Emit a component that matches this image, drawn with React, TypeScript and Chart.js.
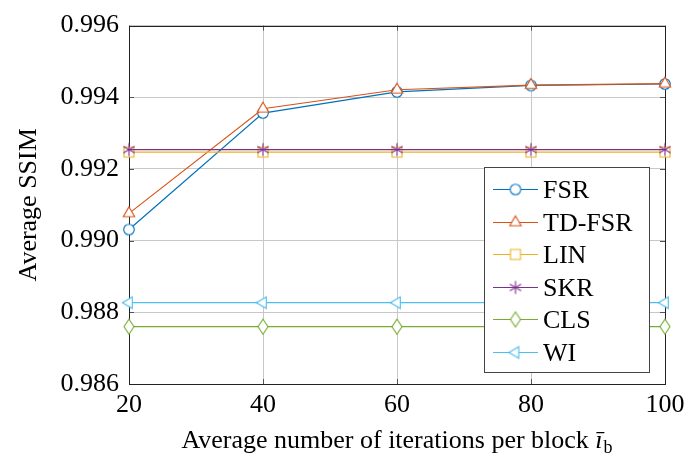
import React, { useEffect, useRef } from 'react';
import { Chart, registerables } from 'chart.js';

Chart.register(...registerables);

const iterations = [20, 40, 60, 80, 100];
const fsrValues = [0.99031, 0.99356, 0.99415, 0.99433, 0.99437];
const tdFsrValues = [0.99076, 0.99368, 0.99421, 0.99434, 0.99438];
const linValues = [0.99247, 0.99247, 0.99247, 0.99247, 0.99247];
const skrValues = [0.99254, 0.99254, 0.99254, 0.99254, 0.99254];
const clsValues = [0.98760, 0.98760, 0.98760, 0.98760, 0.98760];
const wiValues = [0.98827, 0.98827, 0.98827, 0.98827, 0.98827];

const seriesNames = ['FSR', 'TD-FSR', 'LIN', 'SKR', 'CLS', 'WI'];
const seriesValues = [fsrValues, tdFsrValues, linValues, skrValues, clsValues, wiValues];
const seriesColors = ['#0072BD', '#D95319', '#EDB120', '#7E2F8E', '#77AC30', '#4DBEEE'];
const seriesMarkers = ['circle', 'triangle', 'square', 'asterisk', 'diamond', 'triangleLeft'];

const xTicks = [20, 40, 60, 80, 100];
const yTicks = [0.986, 0.988, 0.99, 0.992, 0.994, 0.996];

const FONT = 'Liberation Serif';

Chart.defaults.font.family = FONT;
Chart.defaults.font.size = 26;
Chart.defaults.color = '#000';

function makeMarker(shape: string, color: string): HTMLCanvasElement {
  const c = document.createElement('canvas');
  c.width = 20;
  c.height = 20;
  const g = c.getContext('2d')!;
  const m = 10;
  g.strokeStyle = color;
  g.fillStyle = '#ffffff';
  g.lineWidth = 1.1;
  g.beginPath();
  if (shape === 'circle') {
    g.arc(m, m, 5.3, 0, Math.PI * 2);
    g.fill();
    g.stroke();
  } else if (shape === 'triangle') {
    const r = 6.6;
    g.moveTo(m, m - r);
    g.lineTo(m + r * 0.866, m + r / 2);
    g.lineTo(m - r * 0.866, m + r / 2);
    g.closePath();
    g.fill();
    g.stroke();
  } else if (shape === 'triangleLeft') {
    const r = 6.6;
    g.moveTo(m - r, m);
    g.lineTo(m + r / 2, m - r * 0.866);
    g.lineTo(m + r / 2, m + r * 0.866);
    g.closePath();
    g.fill();
    g.stroke();
  } else if (shape === 'square') {
    g.rect(m - 5, m - 5, 10, 10);
    g.fill();
    g.stroke();
  } else if (shape === 'diamond') {
    g.moveTo(m, m - 7.5);
    g.lineTo(m + 5, m);
    g.lineTo(m, m + 7.5);
    g.lineTo(m - 5, m);
    g.closePath();
    g.fill();
    g.stroke();
  } else if (shape === 'asterisk') {
    const r = 6.5;
    [90, 30, 150].forEach((deg) => {
      const a = (deg * Math.PI) / 180;
      g.moveTo(m - r * Math.cos(a), m - r * Math.sin(a));
      g.lineTo(m + r * Math.cos(a), m + r * Math.sin(a));
    });
    g.stroke();
  }
  return c;
}

export default function App() {
  const ref = useRef<HTMLCanvasElement>(null);

  useEffect(() => {
    const markers = seriesMarkers.map((s, i) => makeMarker(s, seriesColors[i]));

    const framePlugin = {
      id: 'frame',
      beforeDatasetsDraw(chart: any) {
        const { ctx, chartArea: a, scales } = chart;
        ctx.save();
        ctx.strokeStyle = '#555';
        ctx.lineWidth = 1;
        ctx.beginPath();
        yTicks.forEach((v) => {
          const py = Math.round(scales.y.getPixelForValue(v)) + 0.5;
          ctx.moveTo(a.left, py);
          ctx.lineTo(a.left + 5, py);
          ctx.moveTo(a.right - 5, py);
          ctx.lineTo(a.right, py);
        });
        xTicks.forEach((v) => {
          const px = Math.round(scales.x.getPixelForValue(v)) + 0.5;
          ctx.moveTo(px, a.bottom);
          ctx.lineTo(px, a.bottom - 5);
          ctx.moveTo(px, a.top);
          ctx.lineTo(px, a.top + 5);
        });
        ctx.stroke();
        ctx.strokeStyle = '#222';
        ctx.strokeRect(
          Math.round(a.left) + 0.5,
          Math.round(a.top) + 0.5,
          Math.round(a.right - a.left),
          Math.round(a.bottom - a.top)
        );
        ctx.restore();
      },
      afterDatasetsDraw(chart: any) {
        const { ctx, chartArea: a } = chart;
        ctx.save();
        const lx = 484.5, ly = 167.5, lw = 165, lh = 205;
        ctx.fillStyle = '#ffffff';
        ctx.fillRect(lx, ly, lw, lh);
        ctx.strokeStyle = '#444';
        ctx.lineWidth = 1;
        ctx.strokeRect(lx, ly, lw, lh);
        seriesNames.forEach((name, i) => {
          const y = Math.round(189 + i * 32.6) + 0.5;
          ctx.strokeStyle = seriesColors[i];
          ctx.lineWidth = 1.2;
          ctx.beginPath();
          ctx.moveTo(493, y);
          ctx.lineTo(538, y);
          ctx.stroke();
          const mk = markers[i];
          ctx.drawImage(mk, 515.5 - mk.width / 2, y - mk.height / 2);
          ctx.fillStyle = '#000';
          ctx.font = `26px ${FONT}`;
          ctx.textAlign = 'left';
          ctx.textBaseline = 'alphabetic';
          ctx.fillText(name, 543, y + 8.5);
        });
        const main = 'Average number of iterations per block ';
        ctx.fillStyle = '#000';
        ctx.textBaseline = 'alphabetic';
        ctx.textAlign = 'left';
        ctx.font = `26px ${FONT}`;
        const w1 = ctx.measureText(main).width;
        ctx.font = `italic 26px ${FONT}`;
        const w2 = ctx.measureText('\u012B').width;
        ctx.font = `18px ${FONT}`;
        const w3 = ctx.measureText('b').width;
        const total = w1 + w2 + 1 + w3;
        let x = (a.left + a.right) / 2 - total / 2;
        const base = 448;
        ctx.font = `26px ${FONT}`;
        ctx.fillText(main, x, base);
        x += w1;
        ctx.font = `italic 26px ${FONT}`;
        ctx.fillText('\u012B', x, base);
        x += w2 + 1;
        ctx.font = `18px ${FONT}`;
        ctx.fillText('b', x, base + 5);
        ctx.restore();
      },
    };

    const chart = new Chart(ref.current!, {
      type: 'line',
      data: {
        datasets: seriesNames.map((name, i) => ({
          label: name,
          data: iterations.map((x, j) => ({ x, y: seriesValues[i][j] })),
          borderColor: seriesColors[i],
          backgroundColor: seriesColors[i],
          borderWidth: 1.2,
          pointStyle: markers[i] as any,
          pointRadius: 6,
          pointHoverRadius: 6,
          tension: 0,
          fill: false,
          clip: false as any,
          order: seriesNames.length - i,
        })),
      },
      options: {
        responsive: false,
        animation: false,
        layout: { padding: { top: 16, right: 34, left: 0, bottom: 0 } },
        plugins: {
          legend: { display: false },
          tooltip: { enabled: false },
        },
        scales: {
          x: {
            type: 'linear',
            min: 20,
            max: 100,
            afterBuildTicks: (s: any) => {
              s.ticks = xTicks.map((v) => ({ value: v }));
            },
            afterFit: (s: any) => {
              s.height = 74;
            },
            border: { display: false },
            grid: { color: '#c8c8c8', lineWidth: 1, drawTicks: false },
            ticks: {
              color: '#000',
              font: { family: FONT, size: 26 },
              padding: 6,
              maxRotation: 0,
              callback: (v: any) => String(v),
            },
          },
          y: {
            type: 'linear',
            min: 0.986,
            max: 0.996,
            afterBuildTicks: (s: any) => {
              s.ticks = yTicks.map((v) => ({ value: v }));
            },
            afterFit: (s: any) => {
              s.width = 129;
            },
            border: { display: false },
            grid: { color: '#c8c8c8', lineWidth: 1, drawTicks: false },
            ticks: {
              color: '#000',
              font: { family: FONT, size: 26 },
              padding: 10,
              callback: (v: any) => Number(v).toFixed(3),
            },
            title: {
              display: true,
              text: 'Average SSIM',
              color: '#000',
              font: { family: FONT, size: 26 },
              padding: { top: 14, bottom: 0 },
            },
          },
        },
      },
      plugins: [framePlugin],
    });
    return () => chart.destroy();
  }, []);

  return (
    <div style={{ position: 'absolute', left: 0, top: 0, width: 699, height: 458 }}>
      <canvas ref={ref} width={699} height={458} style={{ display: 'block' }} />
    </div>
  );
}
